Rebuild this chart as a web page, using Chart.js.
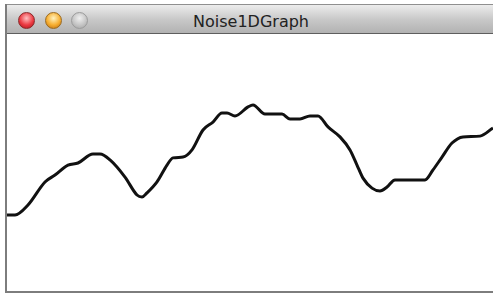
<!DOCTYPE html>
<html lang="en">
<head>
  <meta charset="UTF-8" />
  <title>Noise1DGraph</title>
  <style>
    html, body { margin: 0; padding: 0; background: #fff; }
    body { width: 493px; height: 294px; position: relative; overflow: hidden; }

    /* ==== WINDOW FRAME ==== */
    .win { position: absolute; left: 5px; top: 4px; width: 490px; height: 289px;
           border-left: 2px solid #7d7d7d; border-bottom: 2px solid #7d7d7d; box-sizing: border-box; }
    .titlebar { position: absolute; left: 0; top: 0; right: 0; height: 30px;
                border-top: 1px solid #8f8f8f; border-bottom: 1px solid #5e5e5e;
                background: linear-gradient(#ececec, #c9c9c9 50%, #b2b2b2); box-sizing: border-box; }
    .title { position: absolute; left: 0; right: 0; top: 7px; text-align: center;
             font: 16px "DejaVu Sans", sans-serif; color: #222; }
    .dot { position: absolute; top: 7px; width: 17px; height: 17px; border-radius: 50%; box-sizing: border-box; }
    .red    { left: 11px; background: radial-gradient(circle at 50% 35%, #ffc0c0, #ec3a42 55%, #a5141c); border: 1px solid #8a2a2a; }
    .orange { left: 38px; background: radial-gradient(circle at 50% 35%, #fff3c0, #f7ae30 55%, #b86a10); border: 1px solid #9a6a20; }
    .grey   { left: 64px; background: radial-gradient(circle at 50% 35%, #f0f0f0, #c6c6c6 55%, #a0a0a0); border: 1px solid #9c9c9c; }

    .plot { position: absolute; left: 7px; top: 35px; width: 486px; height: 256px; }
  </style>
</head>
<body>
  <div class="win">
    <div class="titlebar">
      <div class="dot red"></div>
      <div class="dot orange"></div>
      <div class="dot grey"></div>
      <div class="title">Noise1DGraph</div>
    </div>
  </div>
  <div class="plot"><canvas id="noiseChart"></canvas></div>

  <script src="https://cdn.jsdelivr.net/npm/chart.js"></script>
  <script>
    // sample position along the window and noise value (0 = bottom, 1 = top)
    const xs = [0, 8, 21, 38, 48, 61, 71, 86, 93, 103, 118, 130, 135, 140, 150, 160, 166, 176, 185,
                196, 206, 215, 220, 228, 241, 246, 258, 275, 283, 293, 303, 311, 321, 333, 343, 350,
                356, 365, 373, 380, 388, 411, 418, 426, 435, 445, 456, 473, 486];
    const noiseVals = [0.297, 0.297, 0.336, 0.426, 0.453, 0.492, 0.500, 0.535, 0.535, 0.512, 0.445,
                       0.375, 0.367, 0.383, 0.426, 0.492, 0.520, 0.523, 0.551, 0.629, 0.660, 0.695,
                       0.695, 0.684, 0.719, 0.727, 0.691, 0.691, 0.672, 0.672, 0.684, 0.684, 0.641,
                       0.602, 0.551, 0.492, 0.441, 0.402, 0.391, 0.406, 0.434, 0.434, 0.434, 0.473,
                       0.523, 0.578, 0.602, 0.605, 0.637];

    const ctx = document.getElementById('noiseChart').getContext('2d');
    new Chart(ctx, {
      type: 'line',
      data: {
        datasets: [{
          data: xs.map((x, i) => ({ x: x, y: noiseVals[i] })),
          borderColor: '#111',
          borderWidth: 3,
          pointRadius: 0,
          fill: false,
          cubicInterpolationMode: 'monotone'
        }]
      },
      options: {
        responsive: true,
        maintainAspectRatio: false,
        animation: false,
        layout: { padding: 0 },
        plugins: { legend: { display: false }, tooltip: { enabled: false } },
        scales: {
          x: { type: 'linear', min: 0, max: 486, display: false },
          y: { min: 0, max: 1, display: false }
        }
      }
    });
  </script>
</body>
</html>
